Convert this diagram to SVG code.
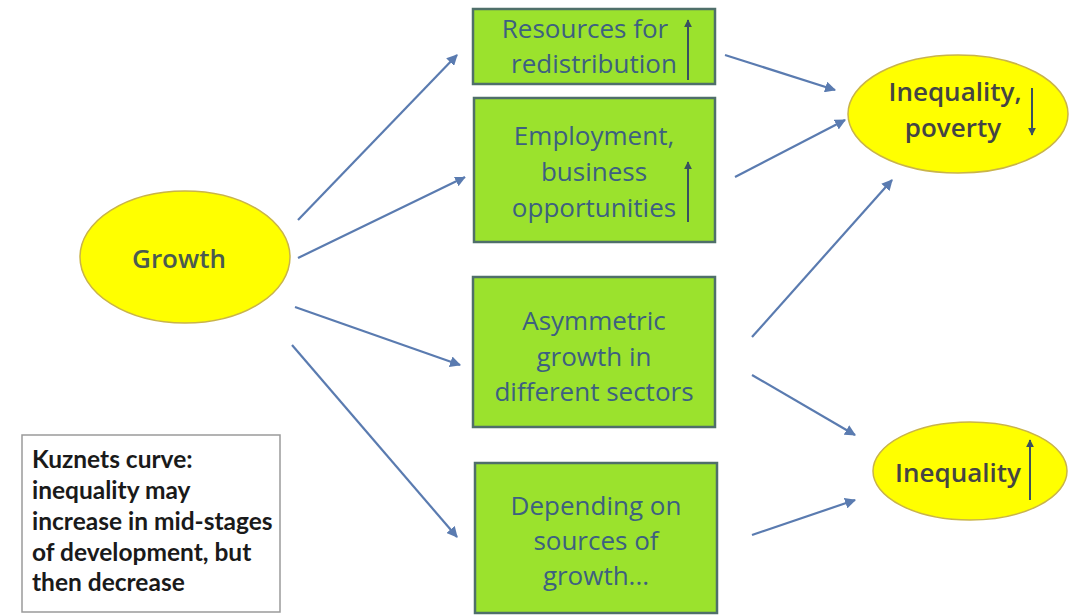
<svg xmlns="http://www.w3.org/2000/svg" width="1071" height="615" viewBox="0 0 1071 615">
<style>
.box{fill:#9be22d;stroke:#4f6f6a;stroke-width:2.5}
.ell{fill:#ffff00;stroke:#c9b449;stroke-width:1.5}
.bt{font-family:"Open Sans","DejaVu Sans",sans-serif;font-size:26px;fill:#3d6080;text-anchor:middle}
.et{font-family:"Open Sans","DejaVu Sans",sans-serif;font-size:26px;font-weight:600;fill:#444444;text-anchor:middle}
.gt{font-family:"Open Sans","DejaVu Sans",sans-serif;font-size:26px;font-weight:600;fill:#4a5a50;text-anchor:middle}
.kt{font-family:"Lato","Liberation Sans",sans-serif;font-size:24.5px;font-weight:bold;fill:#1a1a1a}
.conn{stroke:#5a7bb0;stroke-width:2.2;fill:none;marker-end:url(#ah)}
.sym{stroke:#3a5060;stroke-width:2;fill:none}
</style>
<defs>
<marker id="ah" viewBox="0 0 10 10" refX="9" refY="5" markerWidth="5" markerHeight="5" orient="auto" markerUnits="strokeWidth">
<path d="M0,0 L10,5 L0,10 z" fill="#5a7bb0"/>
</marker>
<marker id="sh" viewBox="0 0 10 10" refX="9" refY="5" markerWidth="4" markerHeight="4" orient="auto" markerUnits="strokeWidth">
<path d="M0,0 L10,5 L0,10 z" fill="#3a5060"/>
</marker>
</defs>
<rect width="1071" height="615" fill="#ffffff"/>
<g id="connectors">
<line class="conn" x1="298" y1="220" x2="457" y2="55"/>
<line class="conn" x1="298" y1="258" x2="465" y2="177"/>
<line class="conn" x1="295" y1="307" x2="460" y2="365"/>
<line class="conn" x1="292" y1="345" x2="457" y2="537"/>
<line class="conn" x1="725" y1="55" x2="835" y2="90"/>
<line class="conn" x1="735" y1="177" x2="845" y2="120"/>
<line class="conn" x1="752" y1="337" x2="892" y2="180"/>
<line class="conn" x1="752" y1="375" x2="855" y2="435"/>
<line class="conn" x1="752" y1="535" x2="855" y2="500"/>
</g>
<g id="growth">
<ellipse class="ell" cx="185" cy="257" rx="105" ry="66"/>
<text class="gt" x="179" y="268">Growth</text>
</g>
<g id="resources">
<rect class="box" x="473" y="9" width="242" height="75"/>
<text class="bt" x="585" y="38">Resources for</text>
<text class="bt" x="594" y="73">redistribution</text>
<line class="sym" x1="688" y1="80" x2="688" y2="20" marker-end="url(#sh)"/>
</g>
<g id="employment">
<rect class="box" x="474" y="98" width="241" height="144"/>
<text class="bt" x="594" y="145">Employment,</text>
<text class="bt" x="594" y="181">business</text>
<text class="bt" x="594" y="217">opportunities</text>
<line class="sym" x1="688" y1="222" x2="688" y2="162" marker-end="url(#sh)"/>
</g>
<g id="asymmetric">
<rect class="box" x="473" y="277" width="242" height="150"/>
<text class="bt" x="594" y="330">Asymmetric</text>
<text class="bt" x="594" y="366">growth in</text>
<text class="bt" x="594" y="401">different sectors</text>
</g>
<g id="depending">
<rect class="box" x="475" y="463" width="242" height="150"/>
<text class="bt" x="596" y="515">Depending on</text>
<text class="bt" x="596" y="550">sources of</text>
<text class="bt" x="596" y="585">growth...</text>
</g>
<g id="ineq-poverty">
<ellipse class="ell" cx="958" cy="114" rx="110" ry="59"/>
<text class="et" x="955" y="101">Inequality,</text>
<text class="et" x="953" y="137">poverty</text>
<line class="sym" x1="1032" y1="88" x2="1032" y2="135" marker-end="url(#sh)"/>
</g>
<g id="inequality">
<ellipse class="ell" cx="970" cy="471" rx="97" ry="49"/>
<text class="et" x="958" y="482">Inequality</text>
<line class="sym" x1="1030" y1="500" x2="1030" y2="440" marker-end="url(#sh)"/>
</g>
<g id="kuznets">
<rect x="22" y="435" width="258" height="177" fill="#ffffff" stroke="#9a9a9a" stroke-width="1.5"/>
<text class="kt" x="32" y="468">Kuznets curve:</text>
<text class="kt" x="32" y="499">inequality may</text>
<text class="kt" x="32" y="530">increase in mid-stages</text>
<text class="kt" x="32" y="561">of development, but</text>
<text class="kt" x="32" y="591">then decrease</text>
</g>
</svg>
